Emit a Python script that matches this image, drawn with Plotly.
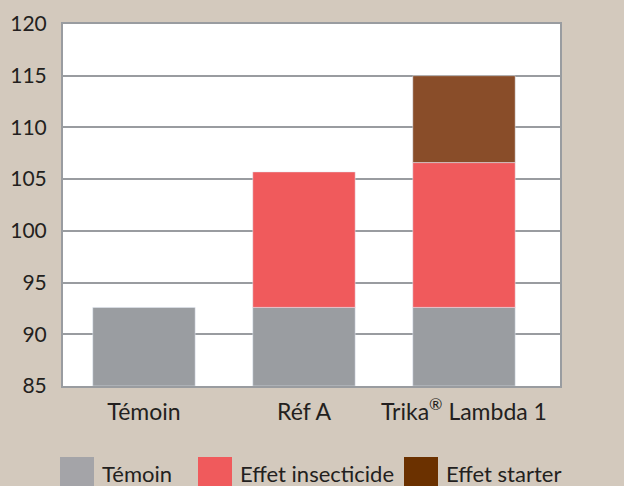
import plotly.graph_objects as go

categories = ["Témoin", "Réf A", "Trika<sup>®</sup> Lambda 1"]
series_names = ["Témoin", "Effet insecticide", "Effet starter"]
temoin = [92.6, 92.6, 92.6]
insecticide = [None, 13.1, 14.0]
starter = [None, None, 8.4]
y_ticks = [85, 90, 95, 100, 105, 110, 115, 120]

bar_colors = ["#9A9DA1", "#F05A5C", "#894D29"]
legend_colors = ["#A4A4A8", "#F05A5C", "#6B3100"]
font_family = "Lato, 'Open Sans', sans-serif"
text_color = "#231F20"

fig = go.Figure()
base_ins = [t if v is not None else None for t, v in zip(temoin, insecticide)]
base_st = [t + (i or 0) if v is not None else None for t, i, v in zip(temoin, insecticide, starter)]

fig.add_trace(go.Bar(x=categories, y=[t - 85 for t in temoin], base=85,
                     marker_color=bar_colors[0], name=series_names[0], width=0.64))
fig.add_trace(go.Bar(x=categories, y=insecticide, base=base_ins,
                     marker_color=bar_colors[1], name=series_names[1], width=0.64))
fig.add_trace(go.Bar(x=categories, y=starter, base=base_st,
                     marker_color=bar_colors[2], name=series_names[2], width=0.64))

# custom legend (swatches + labels) in paper coordinates
W, H = 624, 486
ml, mr, mt, mb = 63, 64, 24, 100
pw, ph = W - ml - mr, H - mt - mb
def px2x(px):
    return (px - ml) / pw
def py2y(py):
    return (H - mb - py) / ph

swatch_left = [60, 198, 404]
text_left = [100, 238, 444]
for i, name in enumerate(series_names):
    fig.add_shape(type="rect", xref="paper", yref="paper",
                  x0=px2x(swatch_left[i]), x1=px2x(swatch_left[i] + 34),
                  y0=py2y(490), y1=py2y(457),
                  fillcolor=legend_colors[i], line_width=0, layer="above")
    fig.add_annotation(xref="paper", yref="paper", x=px2x(text_left[i]), y=py2y(473),
                       text=name, showarrow=False, xanchor="left", yanchor="middle",
                       font=dict(size=22, color=text_color, family=font_family))

fig.update_layout(
    width=W, height=H,
    margin=dict(l=ml, r=mr, t=mt, b=mb, autoexpand=False),
    paper_bgcolor="#D3C9BD",
    plot_bgcolor="#FFFFFF",
    barmode="overlay",
    showlegend=False,
    font=dict(family=font_family, size=21, color=text_color),
)
fig.update_xaxes(range=[-0.506, 2.6], showgrid=False, showline=True, linecolor="#999CA0",
                 linewidth=2, mirror=True, ticks="", ticklabelstandoff=4, automargin=False,
                 tickfont=dict(size=23, color=text_color))
fig.update_yaxes(range=[85, 120], tickvals=y_ticks, showgrid=True, gridcolor="#999CA0",
                 gridwidth=2, showline=True, linecolor="#999CA0", linewidth=2, mirror=True,
                 zeroline=False, ticks="", ticklabelstandoff=10, automargin=False,
                 tickfont=dict(size=21, color=text_color))

fig.write_html("out.html", config={"displayModeBar": False},
               post_script="document.body.style.margin='0';document.body.style.overflow='hidden';")
